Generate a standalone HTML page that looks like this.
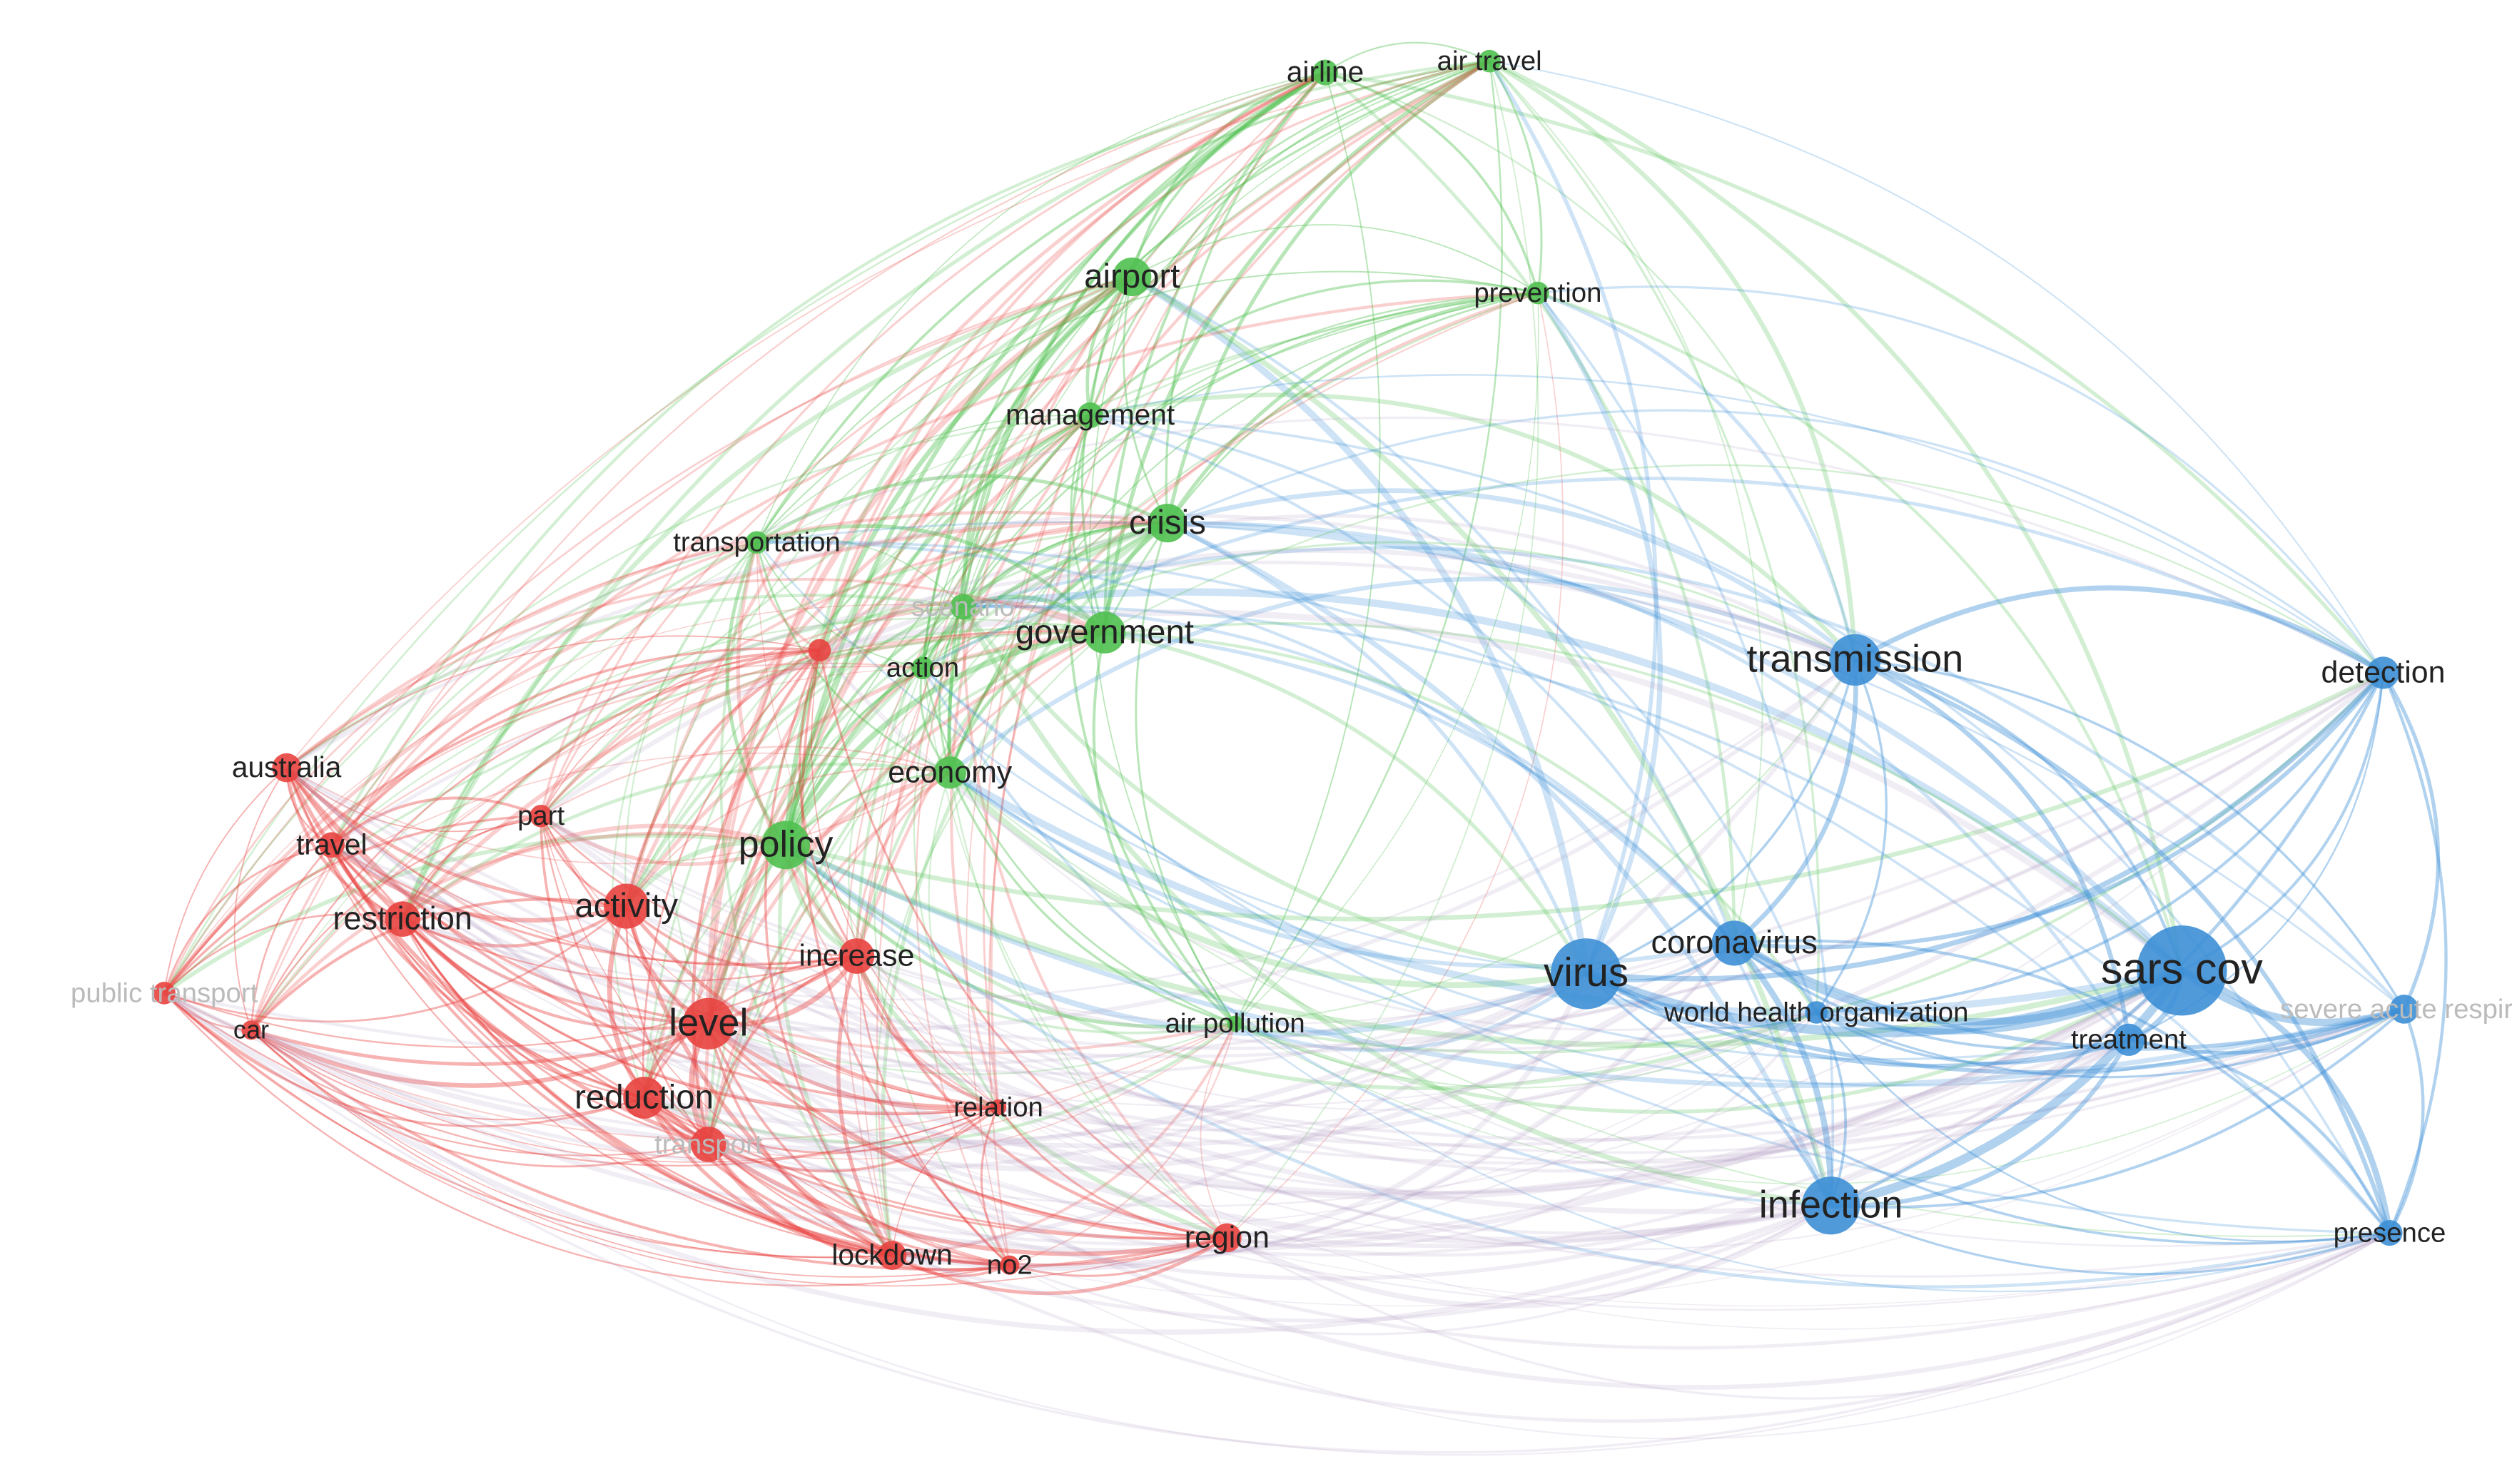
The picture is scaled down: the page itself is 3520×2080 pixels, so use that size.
<!DOCTYPE html>
<html><head><meta charset="utf-8"><style>
html,body{margin:0;padding:0;background:#fff;}
svg{display:block}
text{font-family:"Liberation Sans",sans-serif;fill:#222;text-anchor:middle;dominant-baseline:middle}
</style></head><body>
<svg id="s" width="3520" height="2080" viewBox="0 0 1560 922" preserveAspectRatio="none" xmlns="http://www.w3.org/2000/svg">
<g id="e" fill="none"></g><g id="n"></g><g id="t"></g>
</svg>
<script>
var G='#4fc04f',R='#e8423f',B='#3d8fd6';
var N=[
["airline",823,45,8,G,18],["air travel",925,38,7,G,17],["airport",703,172,12,G,21],["prevention",955,182,7,G,17],
["management",677,258,8,G,18],["crisis",725,325,12,G,21],["transportation",470,337,7,G,17],["scenario",598,377,8,G,17,1],
["government",686,393,13,G,21],["action",573,415,7,G,17],["economy",590,480,10,G,19],["policy",488,525,15,G,23],
["air pollution",767,636,5,G,17],["",509,404,7,R,17],["australia",178,477,9,R,18],["travel",206,525,8,R,18],
["part",336,507,7,R,17],["restriction",250,571,11,R,20],["activity",389,563,14,R,21],["public transport",102,617,7,R,17,1],
["car",156,640,6,R,16],["increase",532,594,11,R,19],["level",440,636,16,R,24],["reduction",400,682,13,R,21],
["transport",440,711,11,R,17,1],["relation",620,688,5,R,17],["lockdown",554,780,9,R,18],["no2",627,786,6,R,17],
["region",762,769,9,R,19],["transmission",1152,410,16,B,24],["detection",1480,418,10,B,19],["virus",985,605,22,B,25],
["coronavirus",1077,586,14,B,20],["world health organization",1128,629,7,B,17],["sars cov",1355,603,28,B,27],
["treatment",1322,646,10,B,17],["severe acute respira",1493,627,9,B,17,1],["infection",1137,749,18,B,24],["presence",1484,766,8,B,17]
];
var seed=7;function rnd(){seed=(seed*16807)%2147483647;return seed/2147483647;}
var e='';var CX=780,CY=470;
for(var i=0;i<N.length;i++)for(var j=i+1;j<N.length;j++){
 var a=N[i],b=N[j];var same=a[4]==b[4];
 var rb=!same&&((a[4]==R&&b[4]==B)||(a[4]==B&&b[4]==R));
 var p=same?0.95:(rb?0.4:0.6);if(rnd()>p)continue;
 var dx=b[1]-a[1],dy=b[2]-a[2],d=Math.sqrt(dx*dx+dy*dy);
 var mx=(a[1]+b[1])/2,my=(a[2]+b[2])/2;
 var px=dy/d,py=-dx/d;
 if(px*(mx-CX)+py*(my-CY)<0){px=-px;py=-py;}
 var k=0.18+rnd()*0.12;
 var cx=mx+px*d*k,cy=my+py*d*k;
 var w=(a[3]+b[3])/10*(0.4+rnd()*0.9);
 var c=same?a[4]:(rnd()<0.5?a[4]:b[4]);
 if(rb)c='#b09cc4';
 e+='<path d="M'+a[1]+' '+a[2]+'Q'+cx.toFixed(1)+' '+cy.toFixed(1)+' '+b[1]+' '+b[2]+'" stroke="'+c+'" stroke-opacity="'+(same?0.4:(rb?0.18:0.25))+'" stroke-width="'+w.toFixed(2)+'"/>';
}
document.getElementById('e').innerHTML=e;
var n='',t='';
N.forEach(function(a){
 n+='<circle cx="'+a[1]+'" cy="'+a[2]+'" r="'+a[3]+'" fill="'+a[4]+'" fill-opacity="0.9"/>';
 if(a[0])t+='<text x="'+a[1]+'" y="'+(a[2]+1)+'" font-size="'+a[5]+'"'+(a[6]?' style="fill:#bbb"':'')+'>'+a[0]+'</text>';
});
document.getElementById('n').innerHTML=n;document.getElementById('t').innerHTML=t;
</script>
</body></html>
